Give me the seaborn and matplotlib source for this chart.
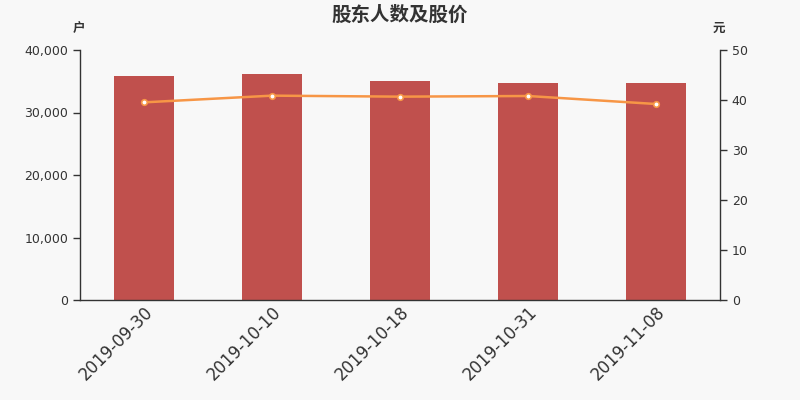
import matplotlib
matplotlib.use("Agg")
import matplotlib.pyplot as plt
import seaborn as sns
import pandas as pd
import numpy as np
from matplotlib.ticker import FuncFormatter, FixedLocator

dates = ["2019-09-30", "2019-10-10", "2019-10-18", "2019-10-31", "2019-11-08"]
holders = [35840, 36110, 34990, 34720, 34670]
prices = [39.53, 40.87, 40.67, 40.80, 39.20]

sns.set_theme(style="white")
plt.rcParams['font.family'] = ['Noto Sans CJK SC', 'DejaVu Sans']
plt.rcParams['axes.unicode_minus'] = False

bg = "#f8f8f8"
axcol = "#333333"
fig = plt.figure(figsize=(8, 4), dpi=100, facecolor=bg)
ax = fig.add_axes([0.1, 0.25, 0.8, 0.625])
ax.set_facecolor(bg)

df = pd.DataFrame({"date": dates, "holders": holders, "price": prices})
sns.barplot(data=df, x="date", y="holders", order=dates, color="#c0504d",
            saturation=1, width=0.47, linewidth=0, edgecolor="none", ax=ax)
ax.set_xlim(-0.5, 4.5)
ax.set_ylim(0, 40000)
ax.yaxis.set_major_locator(FixedLocator([0, 10000, 20000, 30000, 40000]))
ax.yaxis.set_major_formatter(FuncFormatter(lambda v, p: f"{int(v):,}"))

ax2 = ax.twinx()
sns.lineplot(x=np.arange(len(dates)), y=prices, ax=ax2, color="#f79646",
             linewidth=1.8, marker="o", markersize=4, markerfacecolor="white",
             markeredgecolor="#f79646", markeredgewidth=1.2)
ax2.set_ylim(0, 50)
ax2.set_xlim(-0.5, 4.5)
ax2.yaxis.set_major_locator(FixedLocator([0, 10, 20, 30, 40, 50]))

# ticks at category boundaries, labels at centres
ax.set_xticks(np.arange(-0.5, 5, 1.0))
ax.set_xticklabels([])
ax.set_xticks(np.arange(len(dates)), minor=True)
ax.set_xticklabels(dates, minor=True, rotation=45, ha="right",
                   rotation_mode="anchor", fontsize=12, color=axcol,
                   family=['DejaVu Sans'])
ax.tick_params(axis="x", which="minor", length=0, pad=2)
ax.tick_params(axis="x", which="major", length=5, width=1, color=axcol, direction="out")
ax.tick_params(axis="y", length=5, width=1, color=axcol, labelsize=9,
               labelcolor=axcol, left=True)
ax2.tick_params(axis="y", length=5, width=1, color=axcol, labelsize=9,
                labelcolor=axcol, right=True)
for lab in ax.get_yticklabels() + ax2.get_yticklabels():
    lab.set_family(['DejaVu Sans'])

ax.set_xlabel("")
ax.set_ylabel("")
ax2.set_ylabel("")
for a in (ax, ax2):
    a.spines["top"].set_visible(False)
    for s in ("left", "right", "bottom"):
        a.spines[s].set_color(axcol)
        a.spines[s].set_linewidth(1)
ax.spines["right"].set_visible(False)
ax2.spines["left"].set_visible(False)
ax2.spines["bottom"].set_visible(False)

fig.text(0.5, 0.963, "股东人数及股价", ha="center", va="center",
         fontsize=14, fontweight="bold", color=axcol)
fig.text(0.099, 0.928, "户", ha="center", va="center", fontsize=9,
         fontweight="bold", color=axcol)
fig.text(0.899, 0.928, "元", ha="center", va="center", fontsize=9,
         fontweight="bold", color=axcol)

fig.savefig("out.png", dpi=100, facecolor=bg)
